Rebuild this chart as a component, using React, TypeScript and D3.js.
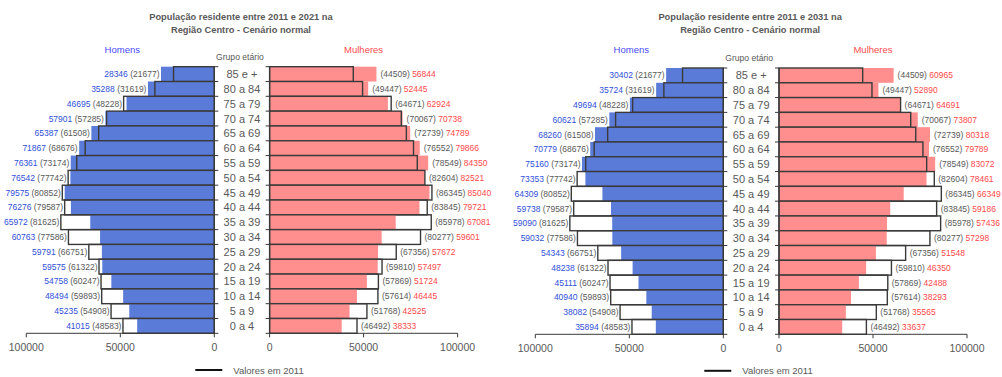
import React from "react";
import * as d3 from "d3";

const ageGroups = ["85 e +", "80 a 84", "75 a 79", "70 a 74", "65 a 69", "60 a 64", "55 a 59", "50 a 54", "45 a 49", "40 a 44", "35 a 39", "30 a 34", "25 a 29", "20 a 24", "15 a 19", "10 a 14", "5 a 9", "0 a 4"];

const men2011 = [21677, 31619, 48228, 57285, 61508, 68676, 73174, 77742, 80852, 79587, 81625, 77586, 66751, 61322, 60247, 59893, 54908, 48583];
const women2011 = [44509, 49447, 64671, 70067, 72739, 76552, 78549, 82604, 86345, 83845, 85978, 80277, 67356, 59810, 57869, 57614, 51768, 46492];

const men2021 = [28346, 35288, 46695, 57901, 65387, 71867, 76361, 76542, 79575, 76276, 65972, 60763, 59791, 59575, 54758, 48494, 45235, 41015];
const women2021 = [56844, 52445, 62924, 70738, 74789, 79866, 84350, 82521, 85040, 79721, 67081, 59601, 57672, 57497, 51724, 46445, 42525, 38333];

const men2031 = [30402, 35724, 49694, 60621, 68260, 70779, 75160, 73353, 64309, 59738, 59090, 59032, 54343, 48238, 45111, 40940, 38082, 35894];
const women2031 = [60965, 52890, 64691, 73807, 80318, 79789, 83072, 78461, 66349, 59186, 57436, 57298, 51548, 46350, 42488, 38293, 35565, 33637];

const axisTicks = [0, 50000, 100000];

const FONT = "'Liberation Sans', Arial, sans-serif";
const GREY = "#595959";
const BLUE_BAR = "#5b7bd9";
const PINK_BAR = "#ff8f8f";
const OUTLINE = "#3a3a3a";
const BLUE_TXT = "#3050d8";
const RED_TXT = "#ff4a4a";

type PanelProps = {
  title1: string;
  title2: string;
  men: number[];
  women: number[];
  maleZero: number;
  femaleZero: number;
  top: number;
  bottom: number;
  dy: number;
};

function Panel({ title1, title2, men, women, maleZero, femaleZero, top, bottom, dy }: PanelProps) {
  const width = 188;
  const xM = d3.scaleLinear().domain([0, 100000]).range([maleZero, maleZero - width]);
  const xF = d3.scaleLinear().domain([0, 100000]).range([femaleZero, femaleZero + width]);
  const y = d3.scaleBand<string>().domain(ageGroups).range([top, bottom]).padding(0);
  const bw = y.bandwidth();
  const mid = (maleZero + femaleZero) / 2;
  const boundaries = d3.range(ageGroups.length + 1).map((i) => top + i * bw);

  return (
    <g fontFamily={FONT}>
      <text x={mid - 1} y={19.5 + dy} textAnchor="middle" fontSize={9.3} fontWeight="bold" fill={GREY}>{title1}</text>
      <text x={mid - 1} y={32.5 + dy} textAnchor="middle" fontSize={9.3} fontWeight="bold" fill={GREY}>{title2}</text>
      <text x={maleZero - 92} y={52.5 + dy} textAnchor="middle" fontSize={9.5} fill="#4a4aff">Homens</text>
      <text x={femaleZero + 94} y={52.5 + dy} textAnchor="middle" fontSize={9.5} fill="#ff4d4d">Mulheres</text>
      <text x={mid - 2} y={60 + dy} textAnchor="middle" fontSize={8.6} fill={GREY}>Grupo etário</text>

      {ageGroups.map((a, i) => {
        const y0 = y(a)!;
        const cy = y0 + bw / 2;
        const mEdge = Math.min(xM(men[i]), xM(men2011[i]));
        const fEdge = Math.max(xF(women[i]), xF(women2011[i]));
        return (
          <g key={a}>
            <rect x={xM(men[i])} y={y0} width={maleZero - xM(men[i])} height={bw} fill={BLUE_BAR} />
            <rect x={femaleZero} y={y0} width={xF(women[i]) - femaleZero} height={bw} fill={PINK_BAR} />
            <rect x={xM(men2011[i])} y={y0} width={maleZero - xM(men2011[i])} height={bw} fill="none" stroke={OUTLINE} strokeWidth={1.4} />
            <rect x={femaleZero} y={y0} width={xF(women2011[i]) - femaleZero} height={bw} fill="none" stroke={OUTLINE} strokeWidth={1.4} />
            <text x={mEdge - 1.5} y={cy + 3} textAnchor="end" fontSize={8.5}>
              <tspan fill={BLUE_TXT}>{men[i]}</tspan>
              <tspan fill={GREY}>{" (" + men2011[i] + ")"}</tspan>
            </text>
            <text x={fEdge + 4} y={cy + 3} textAnchor="start" fontSize={8.5}>
              <tspan fill={GREY}>{"(" + women2011[i] + ") "}</tspan>
              <tspan fill={RED_TXT}>{women[i]}</tspan>
            </text>
            <text x={mid} y={cy + 4} textAnchor="middle" fontSize={11} fill={GREY}>{a}</text>
          </g>
        );
      })}

      {/* vertical axes */}
      <line x1={maleZero} x2={maleZero} y1={top} y2={bottom} stroke={OUTLINE} strokeWidth={1.2} />
      <line x1={femaleZero} x2={femaleZero} y1={top} y2={bottom} stroke={OUTLINE} strokeWidth={1.2} />
      {boundaries.map((b, i) => (
        <g key={"t" + i}>
          <line x1={maleZero} x2={maleZero + 4} y1={b} y2={b} stroke={OUTLINE} strokeWidth={1} />
          <line x1={femaleZero} x2={femaleZero - 4} y1={b} y2={b} stroke={OUTLINE} strokeWidth={1} />
        </g>
      ))}

      {/* bottom axes */}
      <line x1={xM(100000)} x2={maleZero} y1={bottom} y2={bottom} stroke={OUTLINE} strokeWidth={1} />
      <line x1={femaleZero} x2={xF(100000)} y1={bottom} y2={bottom} stroke={OUTLINE} strokeWidth={1} />
      {axisTicks.map((t) => (
        <g key={"ax" + t}>
          <line x1={xM(t)} x2={xM(t)} y1={bottom} y2={bottom + 4} stroke={OUTLINE} strokeWidth={1} />
          <line x1={xF(t)} x2={xF(t)} y1={bottom} y2={bottom + 4} stroke={OUTLINE} strokeWidth={1} />
          <text x={xM(t)} y={bottom + 18} textAnchor="middle" fontSize={10.5} fill={GREY}>{t}</text>
          <text x={xF(t)} y={bottom + 18} textAnchor="middle" fontSize={10.5} fill={GREY}>{t}</text>
        </g>
      ))}

      {/* legend */}
      <line x1={maleZero - 19} x2={maleZero + 8} y1={370 + dy} y2={370 + dy} stroke="#111" strokeWidth={2} />
      <text x={maleZero + 19} y={373.5 + dy} fontSize={9.5} fill={GREY}>Valores em 2011</text>
    </g>
  );
}

export default function App() {
  return (
    <div style={{ position: "absolute", left: 0, top: 0 }}>
      <svg width={1002} height={377} style={{ display: "block", background: "#fff" }}>
        <Panel
          title1="População residente entre 2011 e 2021 na"
          title2="Região Centro - Cenário normal"
          men={men2021}
          women={women2021}
          maleZero={214.3}
          femaleZero={269.6}
          top={66.7}
          bottom={333.3}
          dy={0}
        />
        <Panel
          title1="População residente entre 2011 e 2031 na"
          title2="Região Centro - Cenário normal"
          men={men2031}
          women={women2031}
          maleZero={723.3}
          femaleZero={779}
          top={68}
          bottom={334.3}
          dy={0.8}
        />
      </svg>
    </div>
  );
}
